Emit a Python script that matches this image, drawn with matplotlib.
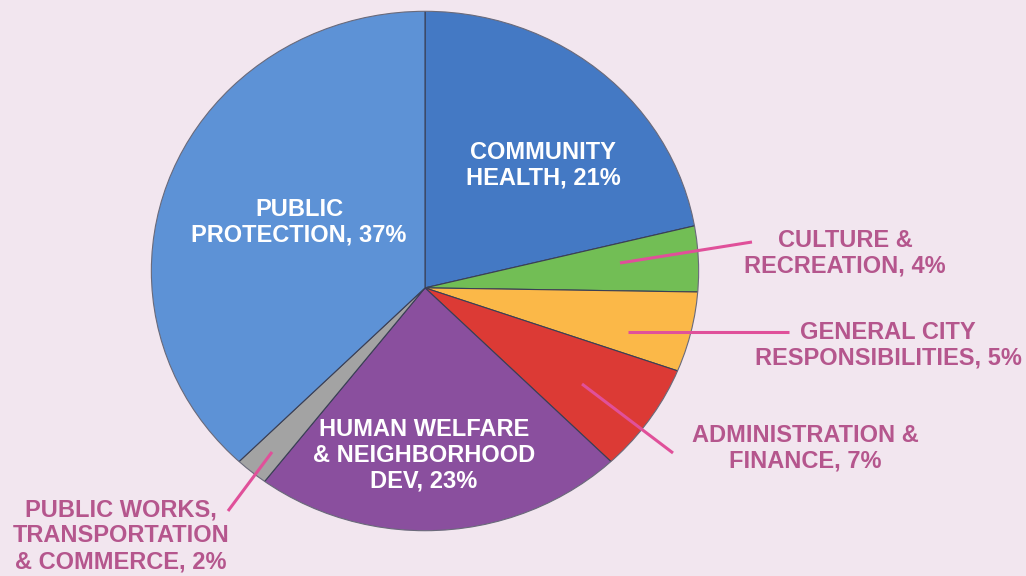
import matplotlib
matplotlib.use("Agg")
import matplotlib.pyplot as plt
from matplotlib.patches import Circle

# ---- data ----
categories = ["COMMUNITY\nHEALTH", "CULTURE &\nRECREATION", "GENERAL CITY\nRESPONSIBILITIES",
              "ADMINISTRATION &\nFINANCE", "HUMAN WELFARE\n& NEIGHBORHOOD\nDEV",
              "PUBLIC WORKS,\nTRANSPORTATION\n& COMMERCE", "PUBLIC\nPROTECTION"]
values = [21, 4, 5, 7, 23, 2, 37]
colors = ["#4479c4", "#72be55", "#fbb848", "#dc3a35", "#8a4f9e", "#a3a3a3", "#5d92d6"]
inside = [True, False, False, False, True, False, True]

BG = "#f2e6ef"
PINK_TEXT = "#b5568d"
PINK_LINE = "#e0509a"

W, H = 1026, 576
fig = plt.figure(figsize=(W / 100, H / 100), dpi=100, facecolor=BG)

# pie axes (slightly elliptical, tilted look: apex below ellipse centre)
px0, px1, py0, py1 = 150, 700, 10, 532
ax = fig.add_axes([px0 / W, 1 - py1 / H, (px1 - px0) / W, (py1 - py0) / H])
ax.set_facecolor("none")
ax.set_aspect("auto")
ax.set_xlim(-1.005, 1.005)
ax.set_ylim(-1.005, 1.005)
wedges, _ = ax.pie(values, colors=colors, startangle=90, counterclock=False,
                   radius=1.4, center=(0, -0.065),
                   wedgeprops=dict(edgecolor="#3a3f55", linewidth=0.8))
ax.set_aspect("auto")
ax.set_xlim(-1.005, 1.005)
ax.set_ylim(-1.005, 1.005)
rim = Circle((0, 0), 1.0, transform=ax.transData, facecolor="none")
for w in wedges:
    w.set_clip_on(True)
    w.set_clip_path(rim)
ax.add_patch(Circle((0, 0), 1.0, facecolor="none", edgecolor="#6a6a7a", linewidth=0.8))
ax.axis("off")

# overlay axes in pixel coordinates for labels
ov = fig.add_axes([0, 0, 1, 1])
ov.set_xlim(0, W)
ov.set_ylim(H, 0)
ov.axis("off")
ov.set_facecolor("none")

font = ["Liberation Sans", "DejaVu Sans"]
labels = [f"{c}, {v}%" for c, v in zip(categories, values)]

# label positions (pixel) - layout only
pos = [(543, 165), (845, 253), (888, 345), (805, 448), (424, 455), (121, 536), (299, 222)]
leaders = {1: ((620, 263), (752, 242)),
           2: ((628, 332), (789, 332)),
           3: ((582, 384), (673, 453)),
           5: ((272, 452), (228, 511))}

for i, (lab, (x, y)) in enumerate(zip(labels, pos)):
    col = "white" if inside[i] else PINK_TEXT
    ov.text(x, y, lab, ha="center", va="center", color=col, fontsize=17,
            fontweight="bold", family=font, linespacing=1.15)
    if i in leaders:
        (x0, y0), (x1, y1) = leaders[i]
        ov.plot([x0, x1], [y0, y1], color=PINK_LINE, lw=2.2, solid_capstyle="butt")

fig.savefig("out.png", dpi=100, facecolor=BG)
